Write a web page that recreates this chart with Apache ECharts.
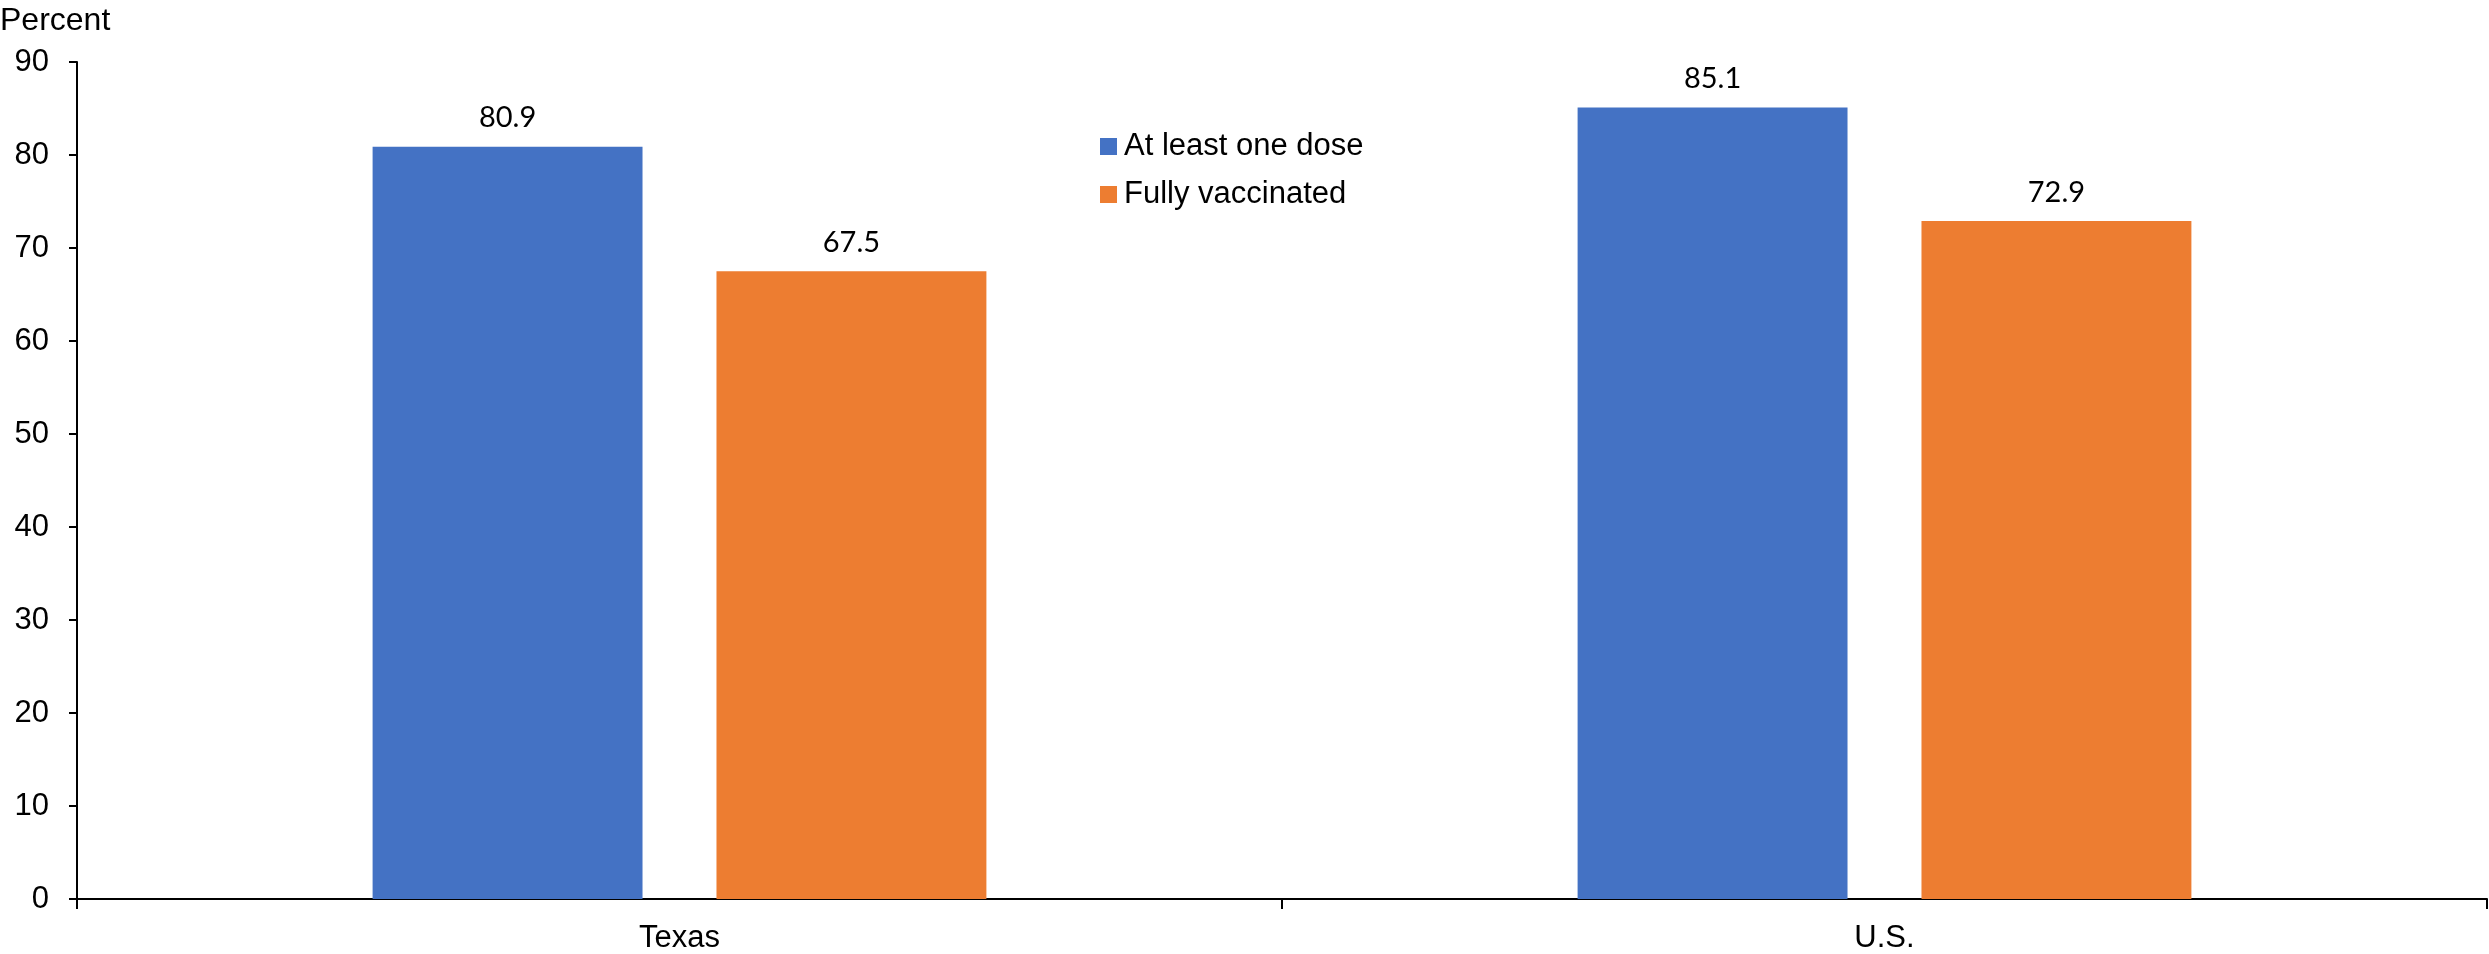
<!DOCTYPE html>
<html>
<head>
<meta charset="utf-8">
<script src="https://cdn.jsdelivr.net/npm/echarts@6/dist/echarts.min.js"></script>
<style>
html,body{margin:0;padding:0;background:#fff;}
#chart{width:2489px;height:954px;}
</style>
</head>
<body>
<div id="chart"></div>
<script>
const categories = ['Texas', 'U.S.'];
const atLeastOneDose = [80.9, 85.1];
const fullyVaccinated = [67.5, 72.9];
const yTicks = [0, 10, 20, 30, 40, 50, 60, 70, 80, 90];

const chart = echarts.init(document.getElementById('chart'));
const axisFont = 'Liberation Sans, Arial, sans-serif';
const labelStyle = {
  show: true, position: 'top', distance: 14,
  fontFamily: 'Lato, sans-serif', fontSize: 29, color: '#000',
  formatter: p => p.value.toFixed(1)
};
chart.setOption({
  animation: false,
  backgroundColor: '#fff',
  grid: { left: 77, right: 2, top: 62, bottom: 54, containLabel: false },
  graphic: [{
    type: 'text', left: 0, top: 5,
    style: { text: 'Percent', font: '32px ' + axisFont, fill: '#000' }
  }],
  legend: {
    orient: 'vertical', left: 1100, top: 131, padding: 0,
    itemWidth: 17, itemHeight: 17, itemGap: 17,
    icon: 'rect',
    textStyle: { fontFamily: axisFont, fontSize: 31, color: '#000', padding: [0, 0, 0, 2] },
    data: ['At least one dose', 'Fully vaccinated']
  },
  xAxis: {
    type: 'category', data: categories,
    axisLine: { lineStyle: { color: '#000', width: 2 } },
    axisTick: { show: true, length: 10, lineStyle: { color: '#000', width: 2 } },
    axisLabel: { fontFamily: axisFont, fontSize: 31, color: '#000', margin: 24 }
  },
  yAxis: {
    type: 'value', min: yTicks[0], max: yTicks[yTicks.length - 1], interval: 10,
    axisLine: { show: true, lineStyle: { color: '#000', width: 2 } },
    axisTick: { show: true, length: 8, lineStyle: { color: '#000', width: 2 } },
    splitLine: { show: false },
    axisLabel: { fontFamily: axisFont, fontSize: 31, color: '#000', margin: 28 }
  },
  series: [
    { name: 'At least one dose', type: 'bar', data: atLeastOneDose,
      barWidth: '22.4%', barGap: '27.4%',
      itemStyle: { color: '#4472C4' }, label: labelStyle },
    { name: 'Fully vaccinated', type: 'bar', data: fullyVaccinated,
      barWidth: '22.4%',
      itemStyle: { color: '#ED7D31' }, label: labelStyle }
  ]
});
</script>
</body>
</html>
